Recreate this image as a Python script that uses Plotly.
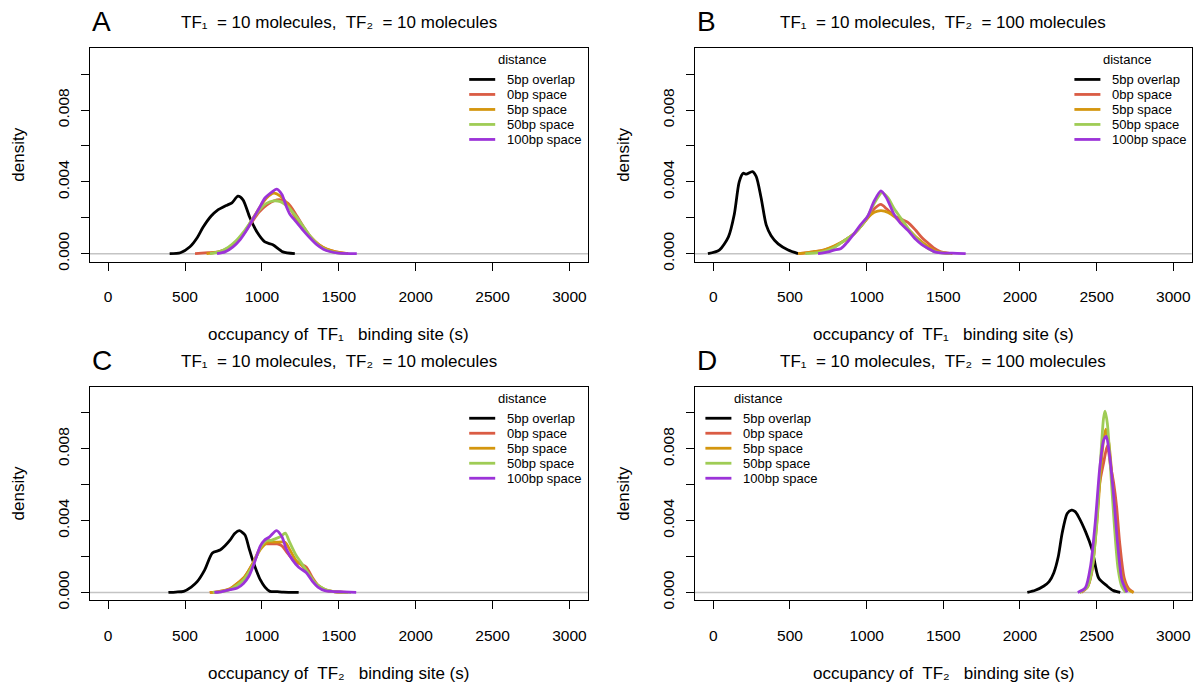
import plotly.graph_objects as go

# ---------------- data ----------------
series_labels = ["5bp overlap", "0bp space", "5bp space", "50bp space", "100bp space"]
series_colors = ["#000000", "#DA5C44", "#D4960E", "#9FCC55", "#9C33D8"]

panel_letters = ["A", "B", "C", "D"]
panel_titles = [
    "TF\u2081  = 10 molecules,  TF\u2082  = 10 molecules",
    "TF\u2081  = 10 molecules,  TF\u2082  = 100 molecules",
    "TF\u2081  = 10 molecules,  TF\u2082  = 10 molecules",
    "TF\u2081  = 10 molecules,  TF\u2082  = 100 molecules",
]
x_titles = [
    "occupancy of  TF\u2081   binding site (s)",
    "occupancy of  TF\u2081   binding site (s)",
    "occupancy of  TF\u2082   binding site (s)",
    "occupancy of  TF\u2082   binding site (s)",
]
y_title = "density"
legend_title = "distance"

x_tickvals = [0, 500, 1000, 1500, 2000, 2500, 3000]
x_ticktext = ["0", "500", "1000", "1500", "2000", "2500", "3000"]
y_tickvals = [0, 0.004, 0.008]
y_ticktext = ["0.000", "0.004", "0.008"]
y_minor_step = 0.002
x_lim = [0, 3000]
y_lim = [0, 0.011]

# Panel A
A_overlap_x = [400, 470, 532, 580, 617, 670, 708, 773, 805, 844, 877, 922, 968, 1019, 1071, 1136, 1214]
A_overlap_y = [0, 0.00005, 0.00038, 0.0009, 0.00147, 0.0021, 0.0024, 0.0027, 0.00283, 0.0032, 0.003, 0.002, 0.0012, 0.00065, 0.0005, 0.0001, 0]
A_0bp_x = [565, 650, 720, 780, 830, 880, 930, 980, 1030, 1080, 1120, 1170, 1220, 1270, 1320, 1370, 1420, 1480, 1560]
A_0bp_y = [0, 0.00005, 0.0001, 0.0003, 0.0006, 0.0011, 0.0017, 0.0023, 0.0027, 0.00295, 0.003, 0.0028, 0.0022, 0.0015, 0.0009, 0.0005, 0.00025, 0.0001, 0]
A_5bp_x = [640, 720, 780, 830, 880, 930, 980, 1030, 1078, 1120, 1170, 1220, 1270, 1320, 1370, 1420, 1480, 1560]
A_5bp_y = [0, 0.0001, 0.0003, 0.0006, 0.0011, 0.0018, 0.0025, 0.0031, 0.00337, 0.0032, 0.0027, 0.002, 0.0014, 0.0009, 0.0005, 0.00025, 0.0001, 0]
A_50bp_x = [662, 720, 780, 830, 880, 930, 980, 1030, 1075, 1120, 1170, 1220, 1270, 1320, 1370, 1420, 1480, 1550]
A_50bp_y = [0, 0.0001, 0.00035, 0.0007, 0.0012, 0.0018, 0.0024, 0.0028, 0.00294, 0.0029, 0.0026, 0.0021, 0.0015, 0.0009, 0.00045, 0.0002, 0.00005, 0]
A_100bp_x = [708, 760, 812, 860, 900, 940, 980, 1020, 1060, 1096, 1130, 1160, 1182, 1220, 1268, 1310, 1357, 1400, 1441, 1500, 1617]
A_100bp_y = [0, 0.0001, 0.00038, 0.0008, 0.0013, 0.0019, 0.0025, 0.0031, 0.0034, 0.0036, 0.0033, 0.0026, 0.0022, 0.0018, 0.0013, 0.0009, 0.0005, 0.00025, 0.00012, 0.00003, 0]

# Panel B
B_overlap_x = [-35, 39, 98, 137, 169, 195, 215, 255, 280, 312, 345, 377, 423, 488, 553]
B_overlap_y = [0, 0.0002, 0.00092, 0.0022, 0.004, 0.00448, 0.00443, 0.00457, 0.0043, 0.0031, 0.0016, 0.001, 0.00054, 0.0002, 0]
B_0bp_x = [553, 650, 720, 787, 850, 917, 970, 1008, 1050, 1093, 1130, 1180, 1230, 1269, 1320, 1360, 1399, 1440, 1483, 1550]
B_0bp_y = [0, 0.0001, 0.0002, 0.0004, 0.0007, 0.0011, 0.0016, 0.002, 0.0025, 0.00274, 0.0025, 0.0021, 0.0019, 0.00174, 0.0013, 0.0009, 0.0006, 0.0003, 0.0001, 0]
B_5bp_x = [553, 650, 720, 787, 850, 917, 970, 1008, 1050, 1093, 1140, 1190, 1240, 1290, 1340, 1399, 1450, 1500, 1560]
B_5bp_y = [0, 0.0001, 0.0002, 0.00042, 0.0007, 0.0011, 0.0016, 0.002, 0.0023, 0.0024, 0.0023, 0.002, 0.0016, 0.0012, 0.0008, 0.0004, 0.00015, 0.00005, 0]
B_50bp_x = [600, 680, 750, 800, 850, 917, 970, 1008, 1050, 1100, 1140, 1180, 1230, 1280, 1330, 1380, 1430, 1480, 1550]
B_50bp_y = [0, 0.00005, 0.0002, 0.0004, 0.0007, 0.0011, 0.0016, 0.0021, 0.0028, 0.0034, 0.0031, 0.0025, 0.0019, 0.0013, 0.0008, 0.0004, 0.00015, 0.00005, 0]
B_100bp_x = [683, 750, 787, 833, 870, 917, 960, 1008, 1047, 1093, 1130, 1178, 1220, 1269, 1320, 1360, 1399, 1450, 1500, 1560, 1646]
B_100bp_y = [0, 0.0001, 0.0002, 0.00029, 0.0006, 0.0011, 0.0016, 0.0021, 0.0029, 0.0035, 0.0031, 0.0022, 0.0017, 0.0013, 0.0008, 0.0005, 0.0003, 0.00008, 0.00003, 0.00003, 0]

# Panel C
C_overlap_x = [392, 440, 491, 540, 579, 628, 678, 728, 760, 791, 825, 853, 890, 915, 940, 965, 990, 1020, 1052, 1100, 1140, 1239]
C_overlap_y = [0, 0.00002, 0.00006, 0.0003, 0.0006, 0.00126, 0.0022, 0.00236, 0.0026, 0.0029, 0.0033, 0.00344, 0.0032, 0.0025, 0.0018, 0.0012, 0.0007, 0.0003, 0.00006, 0.00004, 0.00002, 0]
C_0bp_x = [661, 720, 791, 840, 890, 940, 990, 1020, 1060, 1100, 1130, 1165, 1215, 1250, 1289, 1330, 1364, 1410, 1464, 1550]
C_0bp_y = [0, 0.00005, 0.00018, 0.0005, 0.0009, 0.0016, 0.0025, 0.0027, 0.0027, 0.0027, 0.0026, 0.0022, 0.0017, 0.0016, 0.0014, 0.0008, 0.0004, 0.00012, 0.00005, 0]
C_5bp_x = [661, 720, 791, 840, 890, 940, 990, 1040, 1090, 1150, 1180, 1220, 1260, 1300, 1340, 1380, 1430, 1480, 1560]
C_5bp_y = [0, 0.00005, 0.0002, 0.0005, 0.0009, 0.0016, 0.0024, 0.0028, 0.0028, 0.0028, 0.0024, 0.0018, 0.0015, 0.0011, 0.0006, 0.0003, 0.0001, 0.00003, 0]
C_50bp_x = [680, 740, 791, 840, 890, 940, 990, 1030, 1060, 1090, 1120, 1152, 1180, 1220, 1260, 1300, 1340, 1380, 1430, 1500, 1580]
C_50bp_y = [0, 0.00005, 0.00015, 0.0004, 0.0008, 0.0015, 0.0025, 0.0029, 0.0029, 0.003, 0.0031, 0.0033, 0.0028, 0.0021, 0.0016, 0.0011, 0.0006, 0.0003, 0.0001, 0.00002, 0]
C_100bp_x = [691, 740, 791, 840, 880, 915, 953, 990, 1015, 1050, 1095, 1130, 1160, 1200, 1239, 1289, 1330, 1364, 1410, 1464, 1530, 1613]
C_100bp_y = [0, 0.00005, 0.00015, 0.00025, 0.0005, 0.0009, 0.0017, 0.0026, 0.0029, 0.0031, 0.00344, 0.0031, 0.0024, 0.0018, 0.0014, 0.0011, 0.0006, 0.0003, 0.0001, 0.00005, 0.00003, 0]

# Panel D
D_overlap_x = [2048, 2100, 2156, 2190, 2221, 2250, 2275, 2308, 2336, 2360, 2383, 2427, 2470, 2513, 2568, 2610, 2654]
D_overlap_y = [0, 0.00012, 0.00036, 0.0006, 0.0011, 0.002, 0.0033, 0.0044, 0.00459, 0.0045, 0.0042, 0.0034, 0.0024, 0.0008, 0.00036, 0.0001, 0]
D_0bp_x = [2400, 2440, 2470, 2495, 2520, 2545, 2570, 2590, 2611, 2630, 2650, 2680, 2710, 2741]
D_0bp_y = [0, 0.0003, 0.0012, 0.0036, 0.0061, 0.0072, 0.0082, 0.0071, 0.0061, 0.0048, 0.0028, 0.0008, 0.0002, 0]
D_5bp_x = [2390, 2440, 2470, 2500, 2525, 2545, 2560, 2580, 2605, 2630, 2660, 2700, 2741]
D_5bp_y = [0, 0.0003, 0.0013, 0.0037, 0.0066, 0.0085, 0.0091, 0.0083, 0.006, 0.0033, 0.0011, 0.0002, 0]
D_50bp_x = [2390, 2440, 2470, 2500, 2525, 2545, 2555, 2570, 2590, 2615, 2640, 2665, 2690]
D_50bp_y = [0, 0.0003, 0.0013, 0.0038, 0.0073, 0.0097, 0.0101, 0.0094, 0.007, 0.0038, 0.0013, 0.0003, 0]
D_100bp_x = [2377, 2427, 2460, 2492, 2520, 2546, 2563, 2585, 2611, 2637, 2665, 2698]
D_100bp_y = [0, 0.00027, 0.00145, 0.004, 0.0069, 0.0085, 0.0087, 0.0076, 0.0054, 0.0027, 0.0007, 0]

panel_series = [
    [(A_overlap_x, A_overlap_y), (A_0bp_x, A_0bp_y), (A_5bp_x, A_5bp_y), (A_50bp_x, A_50bp_y), (A_100bp_x, A_100bp_y)],
    [(B_overlap_x, B_overlap_y), (B_0bp_x, B_0bp_y), (B_5bp_x, B_5bp_y), (B_50bp_x, B_50bp_y), (B_100bp_x, B_100bp_y)],
    [(C_overlap_x, C_overlap_y), (C_0bp_x, C_0bp_y), (C_5bp_x, C_5bp_y), (C_50bp_x, C_50bp_y), (C_100bp_x, C_100bp_y)],
    [(D_overlap_x, D_overlap_y), (D_0bp_x, D_0bp_y), (D_5bp_x, D_5bp_y), (D_50bp_x, D_50bp_y), (D_100bp_x, D_100bp_y)],
]

# ---------------- layout geometry (pixels) ----------------
W, H = 1194, 686
FONT = "Liberation Sans, Arial, DejaVu Sans, sans-serif"
# plot boxes: (left, right, top, bottom)
boxes = [
    (89.7, 587.9, 49.0, 265.0),
    (694.9, 1191.7, 49.0, 265.0),
    (89.7, 587.9, 392.3, 608.3),
    (694.9, 1191.7, 392.3, 608.3),
]
legend_on_left = [False, False, False, True]


def fx(px):
    return px / W


def fy(py):
    return 1 - py / H


def ext(lim):
    d = (lim[1] - lim[0]) * 0.04
    return [lim[0] - d, lim[1] + d]


fig = go.Figure()
layout = dict(
    width=W, height=H,
    margin=dict(l=0, r=0, t=0, b=0),
    paper_bgcolor="white", plot_bgcolor="white",
    showlegend=False,
    font=dict(family=FONT, color="black"),
)
annotations = []
shapes = []

for i in range(4):
    L, R, T, B = boxes[i]
    sfx = "" if i == 0 else str(i + 1)
    xa, ya = "x" + sfx, "y" + sfx
    layout["xaxis" + sfx] = dict(
        domain=[fx(L), fx(R)], range=ext(x_lim), anchor=ya,
        tickmode="array", tickvals=x_tickvals, ticktext=x_ticktext,
        ticks="outside", ticklen=8, tickwidth=1, tickcolor="black",
        showline=True, linecolor="black", linewidth=1, mirror=True,
        showgrid=False, zeroline=False, tickfont=dict(size=15.5),
        ticklabelstandoff=13,
    )
    layout["yaxis" + sfx] = dict(
        domain=[fy(B), fy(T)], range=ext(y_lim), anchor=xa,
        tickmode="array", tickvals=y_tickvals, ticktext=y_ticktext,
        ticks="outside", ticklen=8, tickwidth=1, tickcolor="black",
        minor=dict(dtick=y_minor_step, tick0=0, ticks="outside", ticklen=8,
                   tickwidth=1, tickcolor="black", showgrid=False),
        showline=True, linecolor="black", linewidth=1, mirror=True,
        showgrid=False, zeroline=False, tickfont=dict(size=15.5),
        tickangle=-90, ticklabelstandoff=6,
    )
    # gray zero line
    shapes.append(dict(type="line", xref=xa + " domain", yref=ya, x0=0, x1=1, y0=0, y1=0,
                       line=dict(color="#C4C4C4", width=1.5), layer="below"))
    # density curves
    for k, (sx, sy) in enumerate(panel_series[i]):
        fig.add_trace(go.Scatter(
            x=sx, y=sy, mode="lines", name=series_labels[k],
            line=dict(color=series_colors[k], width=2.8, shape="spline", smoothing=0.7),
            xaxis=xa, yaxis=ya, showlegend=False,
        ))
    cx = (L + R) / 2
    # panel letter
    annotations.append(dict(text=panel_letters[i], x=fx(L + 12), y=fy(T - 27), xref="paper", yref="paper",
                            showarrow=False, font=dict(size=28), xanchor="center", yanchor="middle"))
    # panel title
    annotations.append(dict(text=panel_titles[i], x=fx(cx), y=fy(T - 26), xref="paper", yref="paper",
                            showarrow=False, font=dict(size=17), xanchor="center", yanchor="middle"))
    # x title
    annotations.append(dict(text=x_titles[i], x=fx(cx), y=fy(B + 74), xref="paper", yref="paper",
                            showarrow=False, font=dict(size=17), xanchor="center", yanchor="middle"))
    # y title
    annotations.append(dict(text=y_title, x=fx(L - 71), y=fy((T + B) / 2), xref="paper", yref="paper",
                            showarrow=False, font=dict(size=17), textangle=-90,
                            xanchor="center", yanchor="middle"))
    # legend (drawn as lines + labels)
    if legend_on_left[i]:
        line_x0 = L + 10.5
    else:
        line_x0 = L + 379.5
    line_x1 = line_x0 + 26
    text_x = line_x1 + 10
    title_cx = line_x0 + 53
    annotations.append(dict(text=legend_title, x=fx(title_cx), y=fy(T + 11), xref="paper", yref="paper",
                            showarrow=False, font=dict(size=13), xanchor="center", yanchor="middle"))
    for k in range(len(series_labels)):
        yy = T + 31.5 + 15.2 * k
        shapes.append(dict(type="line", xref="paper", yref="paper",
                           x0=fx(line_x0), x1=fx(line_x1), y0=fy(yy), y1=fy(yy),
                           line=dict(color=series_colors[k], width=2.8)))
        annotations.append(dict(text=series_labels[k], x=fx(text_x), y=fy(yy), xref="paper", yref="paper",
                                showarrow=False, font=dict(size=13), xanchor="left", yanchor="middle"))

layout["annotations"] = annotations
layout["shapes"] = shapes
fig.update_layout(**layout)
fig.write_html("out.html")
